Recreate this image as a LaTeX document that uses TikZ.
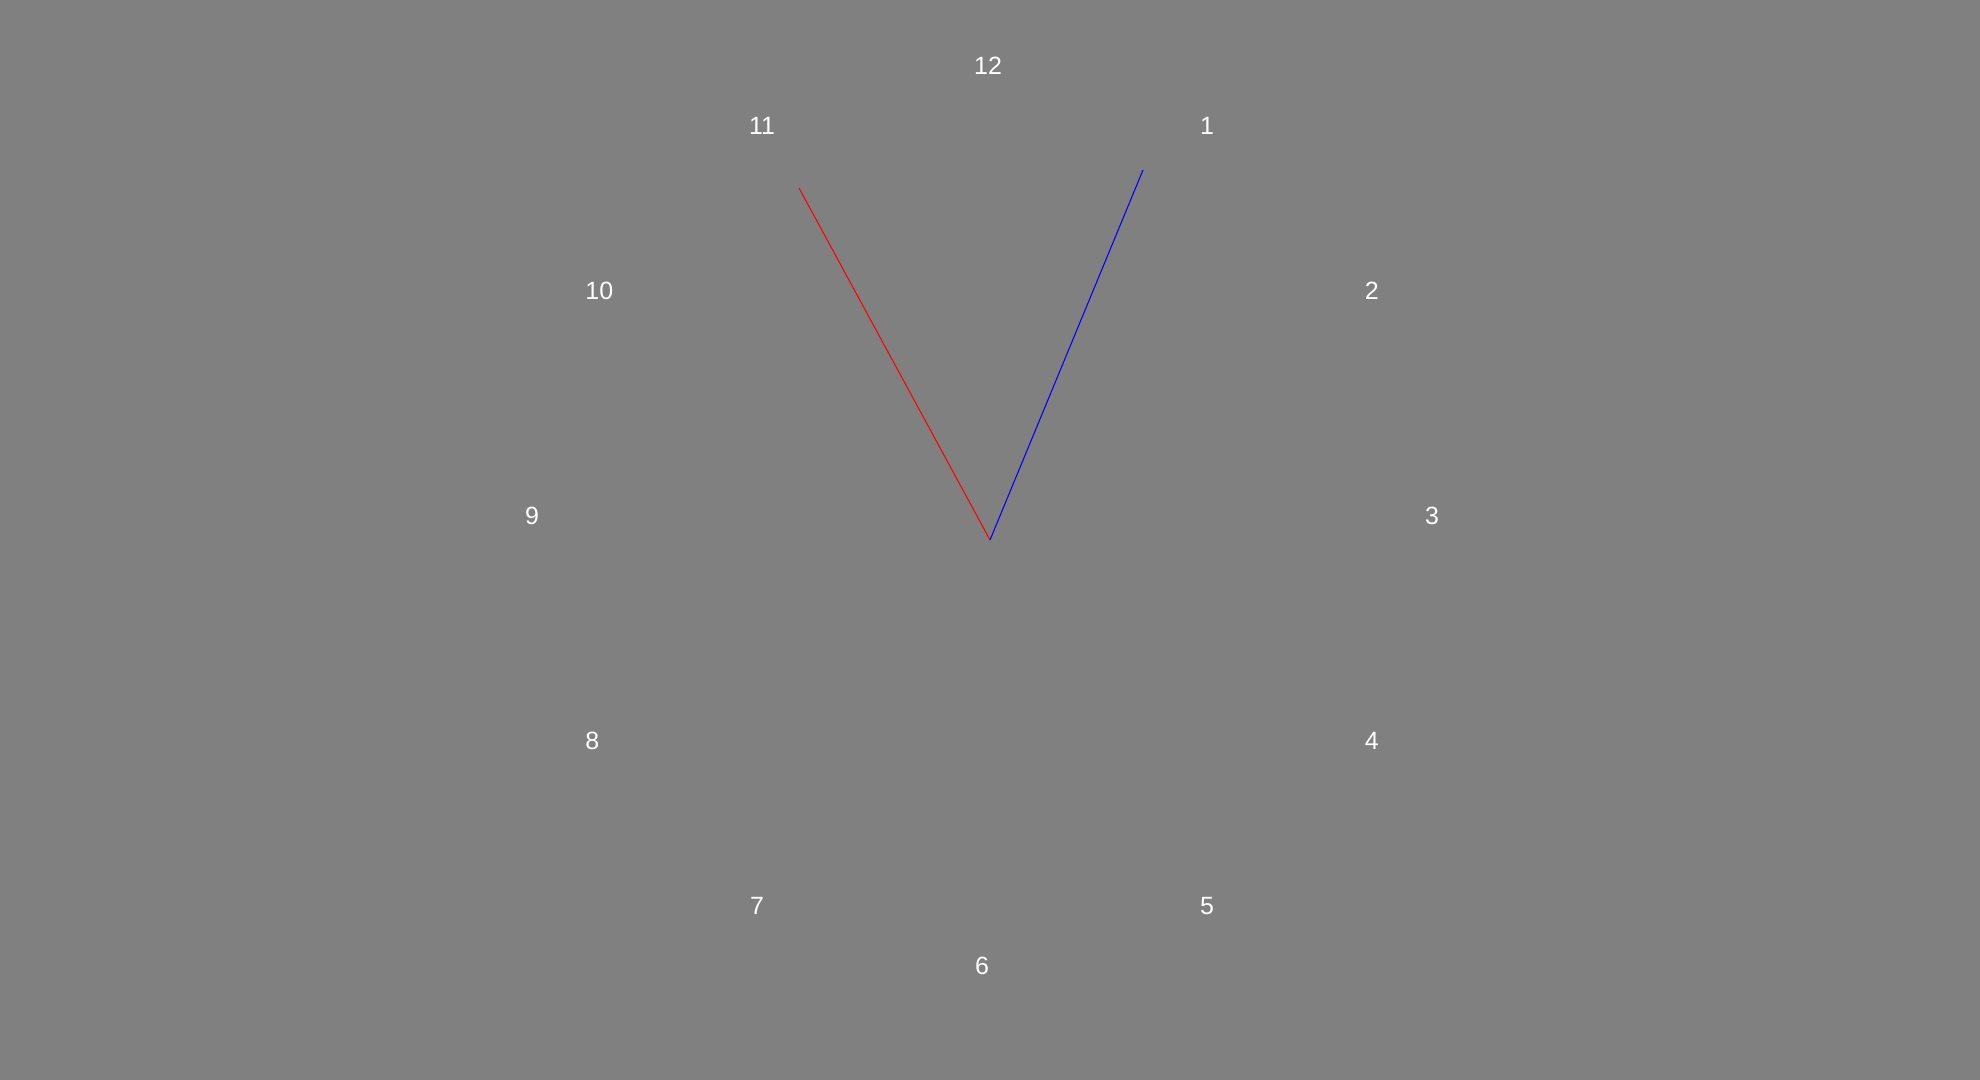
\documentclass[tikz,border=0pt]{standalone}
\usepackage{fontspec}
\setmainfont{Liberation Sans}
\usepackage{tikz}
\usetikzlibrary{calc}

\begin{document}
\begin{tikzpicture}[
        x=0.01cm, y=0.01cm,
        numeral/.style={text=white, inner sep=0pt, font=\fontsize{7.1}{8.5}\selectfont},
        hourhand/.style={draw=red, line width=0.3pt},
        minutehand/.style={draw=blue, line width=0.3pt}
    ]

    % Background
    \fill[gray] (0,0) rectangle (1980,1080);

    % Dial
    \coordinate (dial) at (982,564);
    \coordinate (hub) at (990,540);

    % Numerals
    \node[numeral, xshift=0.06cm] (n12) at ($(dial)+(90:450)$) {12};
    \node[numeral] (n1) at ($(dial)+(60:450)$) {1};
    \node[numeral] (n2) at ($(dial)+(30:450)$) {2};
    \node[numeral] (n3) at ($(dial)+(0:450)$) {3};
    \node[numeral] (n4) at ($(dial)+(-30:450)$) {4};
    \node[numeral] (n5) at ($(dial)+(-60:450)$) {5};
    \node[numeral] (n6) at ($(dial)+(-90:450)$) {6};
    \node[numeral] (n7) at ($(dial)+(-120:450)$) {7};
    \node[numeral] (n8) at ($(dial)+(-150:450)$) {8};
    \node[numeral] (n9) at ($(dial)+(180:450)$) {9};
    \node[numeral, xshift=0.07cm] (n10) at ($(dial)+(150:450)$) {10};
    \node[numeral, xshift=0.05cm] (n11) at ($(dial)+(120:450)$) {11};

    % Hands
    \coordinate (hourtip) at (799,892);
    \coordinate (minutetip) at (1143,910);
    \draw[hourhand] (hub) -- (hourtip);
    \draw[minutehand] (hub) -- (minutetip);

\end{tikzpicture}
\end{document}
